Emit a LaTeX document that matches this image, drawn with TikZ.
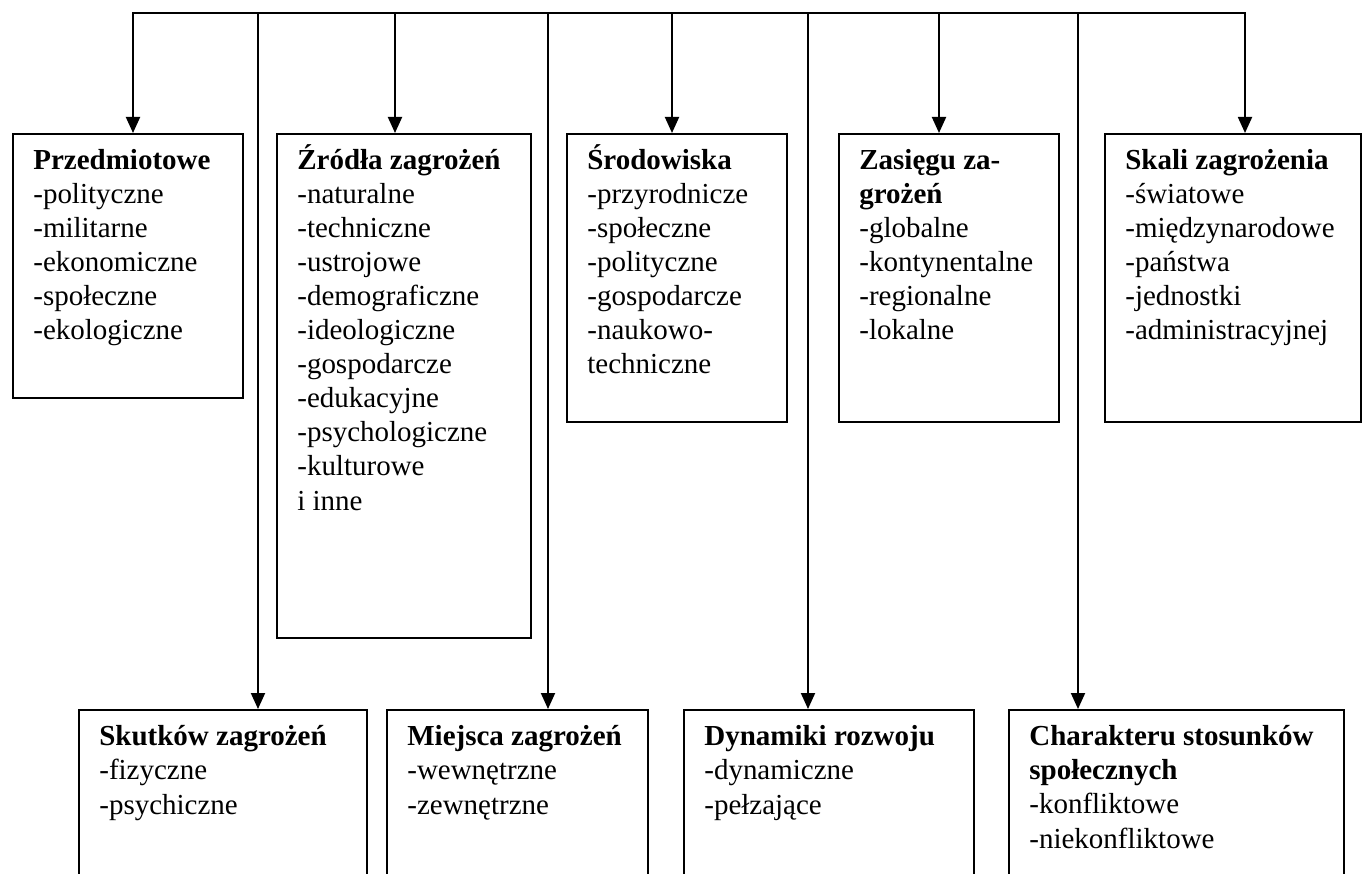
\documentclass[tikz,border=0pt]{standalone}
\usepackage{fontspec}
\setmainfont{Liberation Serif}
\usepackage{tikz}
\usetikzlibrary{arrows.meta, positioning}

\tikzset{
    kat/.style={draw, line width=1.1pt, anchor=north west, inner sep=0pt},
    % kotwica = linia bazowa ostatniego wiersza
    opis/.style={anchor=base west, align=left, inner sep=0pt,
        font=\fontsize{16.5pt}{19.36pt}\selectfont},
    strz/.style={line width=1.1pt, -{Triangle[length=0.32cm, width=0.28cm]}},
    linia/.style={line width=1.1pt, line cap=rect}
}

\begin{document}
\begin{tikzpicture}[x=0.02cm, y=-0.02cm]

    \useasboundingbox (0,0) rectangle (1362,874);
    \clip (0,0) rectangle (1362,874);

    % =================================================================
    % RAMKI GÓRNE
    % =================================================================
    \node[kat, minimum width=4.6cm, minimum height=5.28cm] (przedm) at (12,133) {};
    \node[kat, minimum width=5.08cm, minimum height=10.08cm] (zrodla) at (276,133) {};
    \node[kat, minimum width=4.4cm, minimum height=5.76cm] (srodow) at (566,133) {};
    \node[kat, minimum width=4.4cm, minimum height=5.76cm] (zasieg) at (838,133) {};
    \node[kat, minimum width=5.12cm, minimum height=5.76cm] (skala) at (1104,133) {};

    % =================================================================
    % RAMKI DOLNE (ucięte dołem)
    % =================================================================
    \node[kat, minimum width=5.76cm, minimum height=4cm] (skutki) at (78,709) {};
    \node[kat, minimum width=5.22cm, minimum height=4cm] (miejsce) at (386,709) {};
    \node[kat, minimum width=5.8cm, minimum height=4cm] (dynam) at (683,709) {};
    \node[kat, minimum width=6.7cm, minimum height=4cm] (charakt) at (1008,709) {};

    % Teksty w ramkach (przesunięcie: 37 + 34 na każdy kolejny wiersz)
    \node[opis] (przedm-t) at ([shift={(21,207)}]przedm.north west)
        {\textbf{Przedmiotowe}\\-polityczne\\-militarne\\-ekonomiczne\\-społeczne\\-ekologiczne};
    \node[opis] (zrodla-t) at ([shift={(21,377)}]zrodla.north west)
        {\textbf{Źródła zagrożeń}\\-naturalne\\-techniczne\\-ustrojowe\\-demograficzne\\-ideologiczne\\-gospodarcze\\-edukacyjne\\-psychologiczne\\-kulturowe\\i inne};
    \node[opis] (srodow-t) at ([shift={(21,241)}]srodow.north west)
        {\textbf{Środowiska}\\-przyrodnicze\\-społeczne\\-polityczne\\-gospodarcze\\-naukowo-\\techniczne};
    \node[opis] (zasieg-t) at ([shift={(21,207)}]zasieg.north west)
        {\textbf{Zasięgu za-}\\\textbf{grożeń}\\-globalne\\-kontynentalne\\-regionalne\\-lokalne};
    \node[opis] (skala-t) at ([shift={(21,207)}]skala.north west)
        {\textbf{Skali zagrożenia}\\-światowe\\-międzynarodowe\\-państwa\\-jednostki\\-administracyjnej};
    \node[opis] (skutki-t) at ([shift={(21,105)}]skutki.north west)
        {\textbf{Skutków zagrożeń}\\-fizyczne\\-psychiczne};
    \node[opis] (miejsce-t) at ([shift={(21,105)}]miejsce.north west)
        {\textbf{Miejsca zagrożeń}\\-wewnętrzne\\-zewnętrzne};
    \node[opis] (dynam-t) at ([shift={(21,105)}]dynam.north west)
        {\textbf{Dynamiki rozwoju}\\-dynamiczne\\-pełzające};
    \node[opis] (charakt-t) at ([shift={(21,139)}]charakt.north west)
        {\textbf{Charakteru stosunków}\\\textbf{społecznych}\\-konfliktowe\\-niekonfliktowe};

    % =================================================================
    % LINIA GÓRNA I STRZAŁKI
    % =================================================================
    \coordinate (g1) at (133,13);
    \coordinate (g2) at (258,13);
    \coordinate (g3) at (395,13);
    \coordinate (g4) at (548,13);
    \coordinate (g5) at (672,13);
    \coordinate (g6) at (808,13);
    \coordinate (g7) at (939,13);
    \coordinate (g8) at (1078,13);
    \coordinate (g9) at (1245,13);

    \draw[linia] (g1) -- (g9);
    \foreach \g/\r in {g1/przedm, g2/skutki, g3/zrodla, g4/miejsce, g5/srodow,
                       g6/dynam, g7/zasieg, g8/charakt, g9/skala} {
        \draw[strz] (\g) -- (\g |- \r.north);
    }

\end{tikzpicture}
\end{document}
